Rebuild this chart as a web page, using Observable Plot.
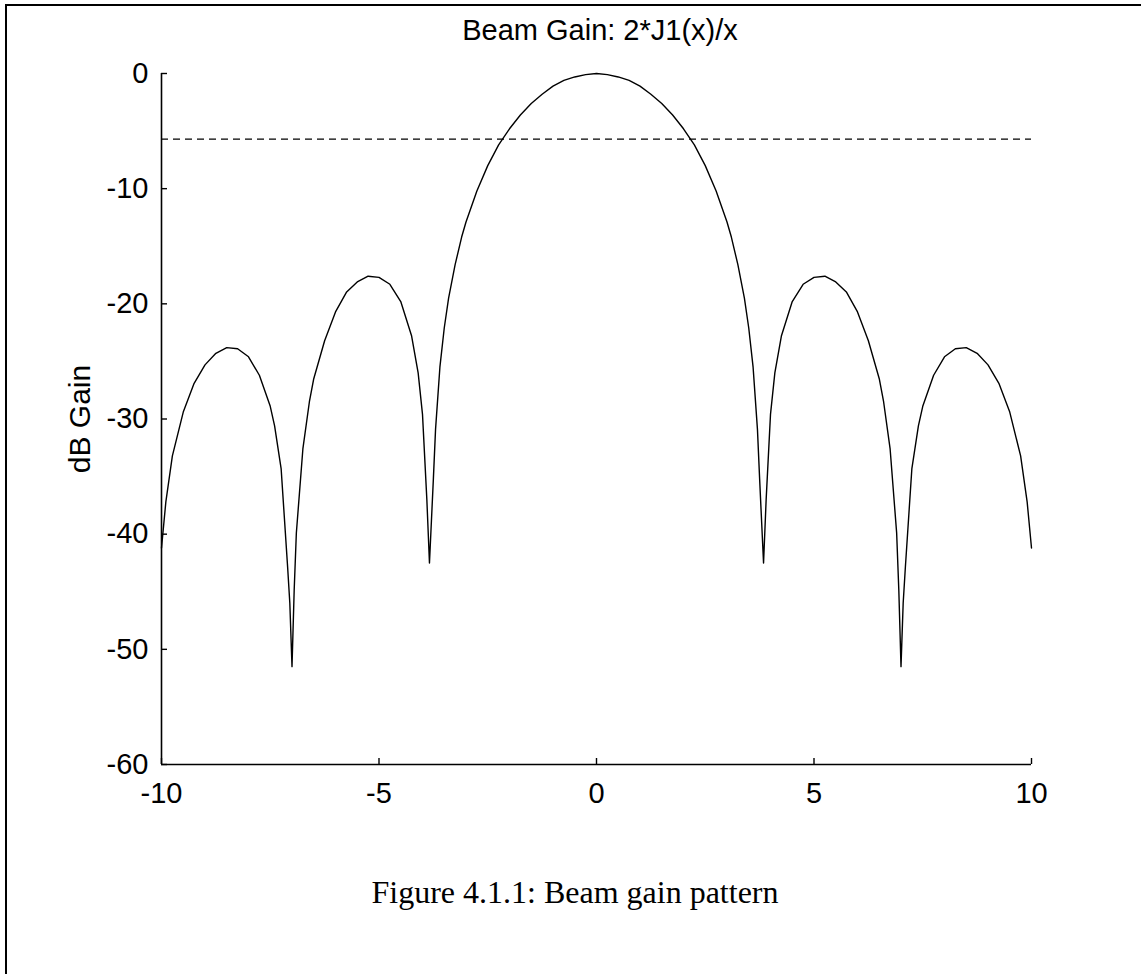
<!DOCTYPE html>
<html><head><meta charset="utf-8">
<script src="https://cdn.jsdelivr.net/npm/d3@7"></script>
<script src="https://cdn.jsdelivr.net/npm/@observablehq/plot@0.6"></script>
<style>
body{margin:0;background:#fff;width:1143px;height:974px;overflow:hidden;}
#frameTop{position:absolute;left:5px;top:4px;width:1136px;height:2px;background:#000;}
#frameLeft{position:absolute;left:5px;top:4px;width:2px;height:970px;background:#000;}
#chart{position:absolute;left:0;top:0;}
#title{position:absolute;left:300px;width:600px;top:16px;text-align:center;font-family:"Liberation Sans",Arial,sans-serif;font-size:29px;line-height:1;}
#caption{position:absolute;left:0;width:1150px;top:876px;text-align:center;font-family:"Liberation Serif","Times New Roman",serif;font-size:32px;line-height:1;}
</style></head>
<body>
<div id="frameTop"></div><div id="frameLeft"></div>
<div id="chart"></div>
<div id="title">Beam Gain: 2*J1(x)/x</div>
<div id="caption">Figure 4.1.1: Beam gain pattern</div>
<script>
// x positions
const xs = [-10,-9.9,-9.75,-9.5,-9.25,-9,-8.75,-8.5,-8.25,-8,-7.75,-7.5,-7.4,-7.25,-7.1,-7.05,-7,-6.95,-6.9,-6.75,-6.6,-6.5,-6.25,-6,-5.75,-5.5,-5.25,-5,-4.75,-4.5,-4.25,-4.1,-4,-3.9,-3.84,-3.75,-3.7,-3.6,-3.5,-3.4,-3.25,-3.1,-3,-2.75,-2.5,-2.25,-2,-1.75,-1.5,-1.25,-1,-0.75,-0.5,-0.25,
  0,0.25,0.5,0.75,1,1.25,1.5,1.75,2,2.25,2.5,2.75,3,3.1,3.25,3.4,3.5,3.6,3.7,3.75,3.84,3.9,4,4.1,4.25,4.5,4.75,5,5.25,5.5,5.75,6,6.25,6.5,6.6,6.75,6.9,6.95,7,7.05,7.1,7.25,7.4,7.5,7.75,8,8.25,8.5,8.75,9,9.25,9.5,9.75,9.9,10];
// gain in dB
const gainDb = [-41.2,-37.2,-33.2,-29.4,-26.9,-25.3,-24.3,-23.8,-23.9,-24.6,-26.2,-28.9,-30.6,-34.3,-42.9,-46.0,-51.5,-44.9,-39.9,-32.6,-28.5,-26.5,-23.2,-20.7,-19.0,-18.1,-17.6,-17.7,-18.3,-19.8,-22.8,-26.0,-29.6,-37.0,-42.5,-35.2,-30.9,-25.5,-22.1,-19.5,-16.6,-14.2,-12.9,-10.2,-8.0,-6.2,-4.8,-3.6,-2.6,-1.8,-1.1,-0.6,-0.3,-0.1,
  0,-0.1,-0.3,-0.6,-1.1,-1.8,-2.6,-3.6,-4.8,-6.2,-8.0,-10.2,-12.9,-14.2,-16.6,-19.5,-22.1,-25.5,-30.9,-35.2,-42.5,-37.0,-29.6,-26.0,-22.8,-19.8,-18.3,-17.7,-17.6,-18.1,-19.0,-20.7,-23.2,-26.5,-28.5,-32.6,-39.9,-44.9,-51.5,-46.0,-42.9,-34.3,-30.6,-28.9,-26.2,-24.6,-23.9,-23.8,-24.3,-25.3,-26.9,-29.4,-33.2,-37.2,-41.2];
const halfPowerDb = [-5.7];
const xTicks = [-10,-5,0,5,10];
const yTicks = [0,-10,-20,-30,-40,-50,-60];
const yLabel = ["dB Gain"];

const data = xs.map((x,i)=>({x, y: gainDb[i]}));

const chart = Plot.plot({
  width: 1143,
  height: 840,
  marginLeft: 161,
  marginRight: 112,
  marginTop: 73,
  marginBottom: 76,
  style: {fontFamily: '"Liberation Sans", Arial, sans-serif', fontSize: "29px", background: "transparent", color: "#000"},
  x: {domain: [-10, 10]},
  y: {domain: [-60, 0]},
  marks: [
    Plot.axisX({ticks: xTicks, tickFormat: d => String(d), tickSize: 0, tickPadding: 18, label: null}),
    Plot.axisY({ticks: yTicks, tickFormat: d => String(d), tickSize: 0, tickPadding: 13, label: null}),
    // inward ticks
    Plot.ruleX(xTicks, {x: d => d, y1: -60, y2: -60, insetTop: -6, strokeWidth: 1.4}),
    Plot.ruleY(yTicks, {y: d => d, x1: -10, x2: -10, insetRight: -6, strokeWidth: 1.4}),
    Plot.ruleX([-10], {strokeWidth: 1.6}),
    Plot.ruleY([-60], {strokeWidth: 1.6}),
    Plot.ruleY(halfPowerDb, {strokeWidth: 1.4, strokeDasharray: "7,5"}),
    Plot.line(data, {x: "x", y: "y", stroke: "#000", strokeWidth: 1.4}),
    Plot.text(yLabel, {frameAnchor: "left", textAnchor: "middle", rotate: -90, dx: -81, fontSize: 30, text: d => d})
  ]
});
document.getElementById("chart").appendChild(chart);
</script>
</body></html>
